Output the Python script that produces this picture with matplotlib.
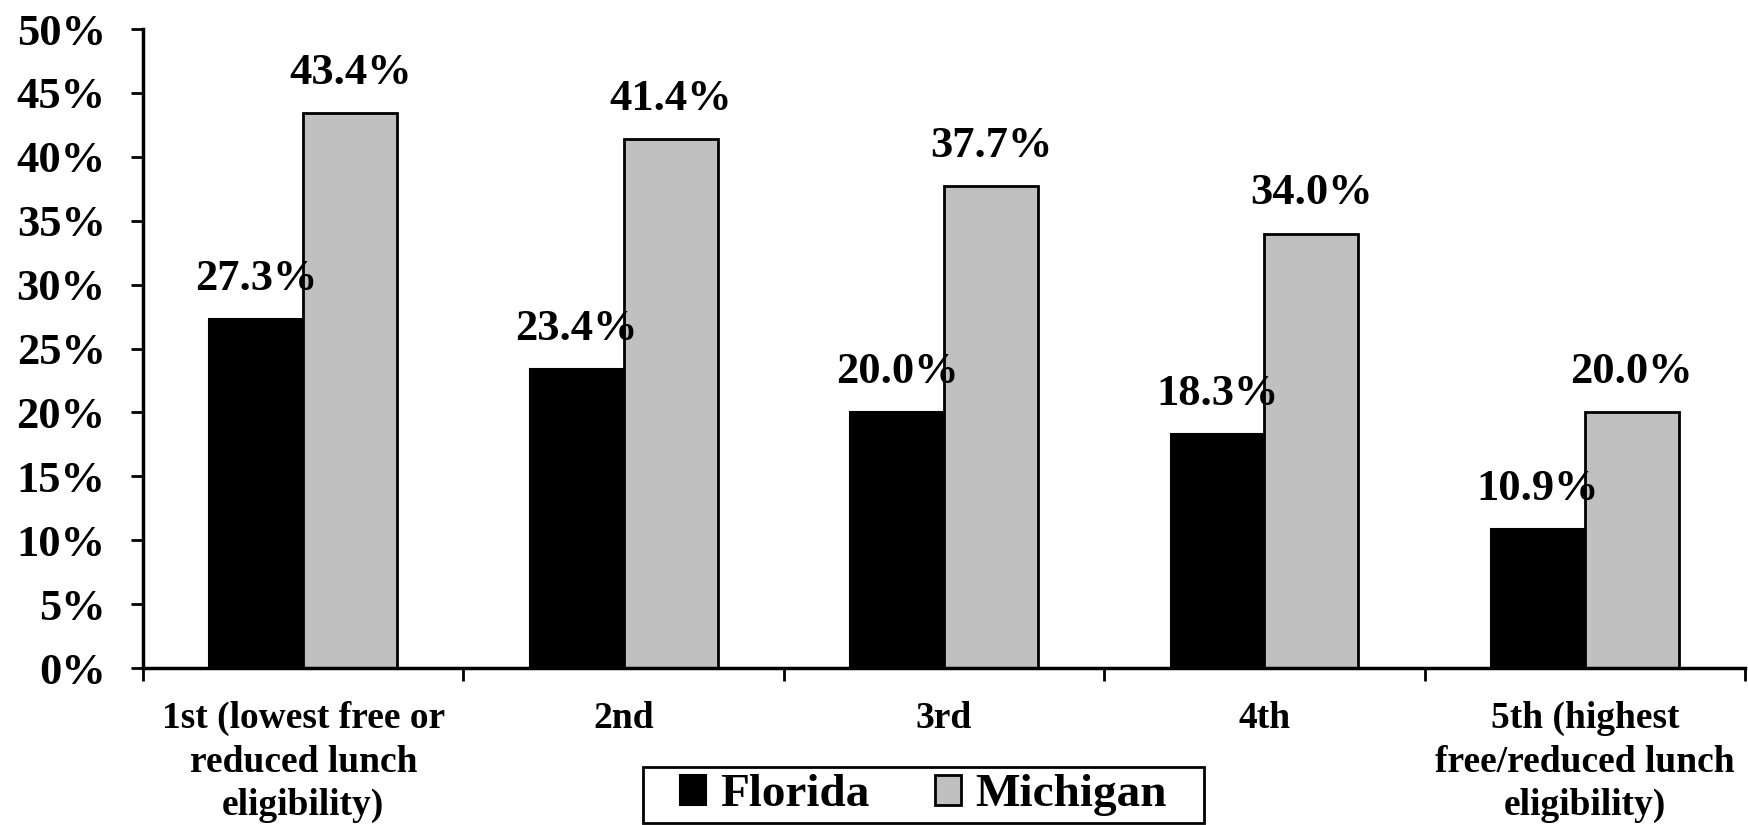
import numpy as np
import matplotlib
matplotlib.use("Agg")
import matplotlib.pyplot as plt
from matplotlib.patches import Rectangle
from matplotlib.ticker import FuncFormatter

# quintiles of free/reduced lunch eligibility
categories = ["1st (lowest free or\nreduced lunch\neligibility)", "2nd", "3rd", "4th",
              "5th (highest\nfree/reduced lunch\neligibility)"]
florida = [27.3, 23.4, 20.0, 18.3, 10.9]
michigan = [43.4, 41.4, 37.7, 34.0, 20.0]

plt.rcParams['font.family'] = ['Liberation Serif', 'DejaVu Serif']
plt.rcParams['font.weight'] = 'bold'

fig = plt.figure(figsize=(17.49, 8.25), dpi=100)
ax = fig.add_axes([0.0818, 0.1903, 0.9159, 0.7745])

x = np.arange(len(categories))
w = 0.293
b1 = ax.bar(x - w/2, florida, w, color='black', edgecolor='black', lw=1.5, label="Florida")
b2 = ax.bar(x + w/2, michigan, w, color='#c0c0c0', edgecolor='black', lw=2, label="Michigan")

for bars, vals in ((b1, florida), (b2, michigan)):
    for r, v in zip(bars, vals):
        ax.annotate(f"{v:.1f}%", (r.get_x() + r.get_width()/2, r.get_height()),
                    xytext=(0, 21), textcoords='offset points', ha='center', va='baseline',
                    fontsize=32, fontweight='bold')

ax.set_xlim(-0.5, len(categories) - 0.5)
ax.set_ylim(0, 50)
ax.set_yticks(np.arange(0, 51, 5))
ax.yaxis.set_major_formatter(FuncFormatter(lambda v, p: f"{v:.0f}%"))
ax.tick_params(axis='y', labelsize=32, length=9, width=2, pad=18)

# group separators as major ticks, names on minor ticks
ax.set_xticks(np.arange(-0.5, len(categories), 1.0))
ax.set_xticklabels([])
ax.set_xticks(x, minor=True)
ax.set_xticklabels(categories, minor=True, fontsize=27, fontweight='bold', linespacing=1.3)
ax.tick_params(axis='x', which='major', length=9, width=2)
ax.tick_params(axis='x', which='minor', length=0, pad=24)

for s in ['top', 'right']:
    ax.spines[s].set_visible(False)
for s in ['left', 'bottom']:
    ax.spines[s].set_linewidth(2.5)

leg = fig.legend(handles=[b1, b2], loc='center', bbox_to_anchor=(0.528, 0.036), ncol=2,
                 fontsize=34, frameon=False,
                 handlelength=0.55, handleheight=0.6, handletextpad=0.3, columnspacing=1.4,
                 borderpad=0.15, borderaxespad=0)
for t in leg.get_texts():
    t.set_fontweight('bold')

# legend frame, wider than the entries on both sides
fig.canvas.draw()
bb = leg.get_window_extent().transformed(fig.transFigure.inverted())
padx = 30 / fig.bbox.width
fig.add_artist(Rectangle((bb.x0 - padx, bb.y0), bb.width + 2*padx, bb.height,
                         transform=fig.transFigure, fill=False, edgecolor='black', lw=2))

fig.savefig("out.png", dpi=100)
